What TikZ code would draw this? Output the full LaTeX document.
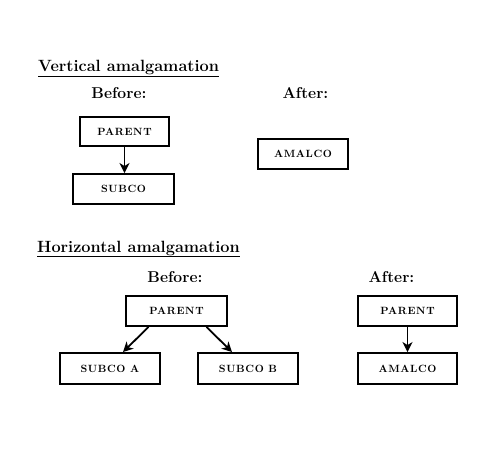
\documentclass[tikz,border=0pt]{standalone}
\usepackage{fontspec}
\setmainfont{Latin Modern Roman}
\usetikzlibrary{arrows.meta}
\tikzset{
  box/.style={draw, line width=1.9pt, inner sep=0pt, minimum height=29pt,
    font=\fontsize{10.5}{12}\selectfont\bfseries\addfontfeature{LetterSpace=6}},
  head/.style={inner sep=0pt, anchor=base west, font=\fontsize{16.3}{18}\selectfont\bfseries},
  sub/.style={inner sep=0pt, anchor=base, font=\fontsize{15.7}{18}\selectfont\bfseries},
  arr/.style={line width=1.8pt, -{Stealth[length=10pt,width=10pt,inset=3pt]}}
}
\begin{document}
\begin{tikzpicture}[x=1pt,y=-1pt]
\useasboundingbox[fill=white] (0,0) rectangle (487,455);
% vertical
\node[head] (vh) at (38,71.7) {\underline{Vertical amalgamation}};
\node[sub] (vb) at (119,98) {Before:};
\node[sub] (va) at (305.5,98) {After:};
\node[box, minimum width=89pt] (vp) at (124.5,131.5) {PARENT};
\node[box, minimum width=101pt, minimum height=30pt] (vs) at (123.5,189) {SUBCO};
\node[box, minimum width=90pt, minimum height=30pt] (vam) at (303,154) {AMALCO};
\draw[arr] (vp.south) -- (vp.south |- vs.north);
% horizontal
\node[head] (hh) at (37,252) {\underline{Horizontal amalgamation}};
\node[sub] (hb) at (175,282) {Before:};
\node[sub] (ha) at (391.5,282) {After:};
\node[box, minimum width=101pt, minimum height=30pt] (hp) at (176.5,311) {PARENT};
\node[box, minimum width=100pt, minimum height=31pt] (sa) at (110,368.5) {SUBCO A};
\node[box, minimum width=100pt, minimum height=31pt] (sb) at (248,368.5) {SUBCO B};
\node[box, minimum width=99pt, minimum height=30pt] (ap) at (407.5,311) {PARENT};
\node[box, minimum width=99pt, minimum height=31pt] (aa) at (407.5,368.5) {AMALCO};
\draw[arr] ([xshift=-28pt]hp.south) -- ([xshift=13pt]sa.north);
\draw[arr] ([xshift=30pt]hp.south) -- ([xshift=-16pt]sb.north);
\draw[arr] (ap.south) -- (aa.north);
\end{tikzpicture}
\end{document}
